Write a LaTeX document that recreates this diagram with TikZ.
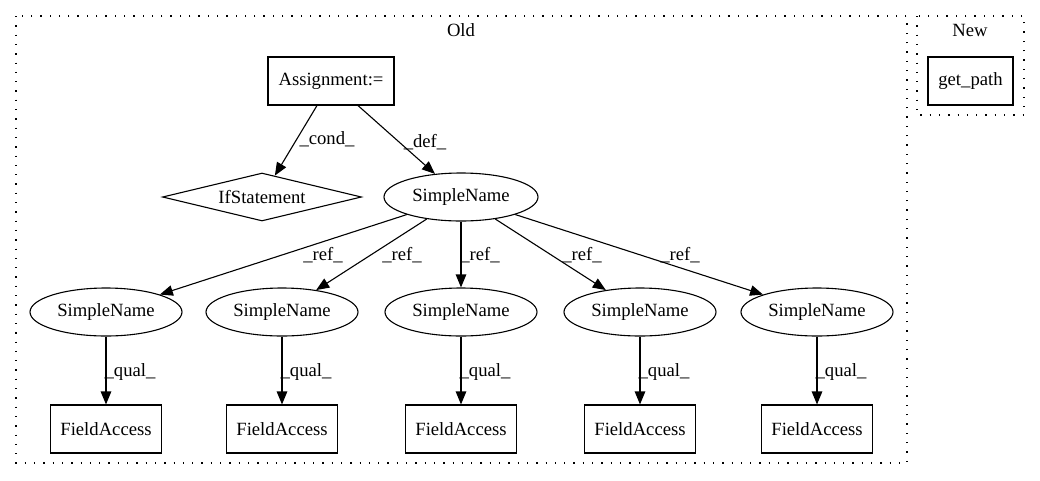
\documentclass[tikz,border=0pt]{standalone}
\usepackage{fontspec}
\setmainfont{Liberation Serif}
\usetikzlibrary{shapes.geometric,arrows.meta}
\begin{document}
\begin{tikzpicture}[x=1pt,y=-1pt,
  every node/.style={font=\fontsize{18.67}{22}\selectfont, inner sep=0pt},
  boxnode/.style={draw, line width=1.1pt, rectangle, minimum height=48pt},
  ellnode/.style={draw, line width=1.1pt, ellipse, minimum width=154pt, minimum height=48pt},
  dianode/.style={draw, line width=1.1pt, diamond, aspect=4.15, minimum width=199pt, minimum height=48pt},
  cluster/.style={line width=1.3pt, dash pattern=on 1.3pt off 8pt},
  edge/.style={line width=1.1pt, -{Triangle[length=13pt,width=10.5pt]}},
  lbl/.style={}
]
\useasboundingbox (0,0) rectangle (1040,480);
% clusters
\draw[cluster] (16,16) rectangle (907,463);
\draw[cluster] (917,16) rectangle (1024,115);
\node (oldlbl) at (461,30) {Old};
\node (newlbl) at (970,30) {New};
% nodes
\node[boxnode, minimum width=85pt] (getpath) at (970.5,81) {get\_path};
\node[boxnode, minimum width=126pt] (assign) at (331,81) {Assignment:=};
\node[dianode] (ifst) at (262,197) {IfStatement};
\node[ellnode] (sn) at (461,197) {SimpleName};
\foreach \i/\x in {1/106,2/282,3/461,4/640,5/817}{
  \node[ellnode, minimum width=152pt] (sn\i) at (\x,312) {SimpleName};
  \node[boxnode, minimum width=111pt] (fa\i) at (\x,429) {FieldAccess};
  \draw[edge] (sn\i) -- (fa\i);
  \node[lbl] (q\i) at (\x+24,372) {\_qual\_};
}
% edges
\draw[edge] ([xshift=-14pt]assign.south) -- (ifst);
\draw[edge] ([xshift=27pt]assign.south) -- (sn);
\node[lbl] (condlbl) at (327,139) {\_cond\_};
\node[lbl] (deflbl) at (425,142) {\_def\_};
\foreach \i in {1,...,5}{
  \draw[edge] (sn) -- (sn\i);
}
\node[lbl] (r1) at (323,255) {\_ref\_};
\node[lbl] (r2) at (402,255) {\_ref\_};
\node[lbl] (r3) at (480,255) {\_ref\_};
\node[lbl] (r4) at (582,255) {\_ref\_};
\node[lbl] (r5) at (680,255) {\_ref\_};
\end{tikzpicture}
\end{document}
